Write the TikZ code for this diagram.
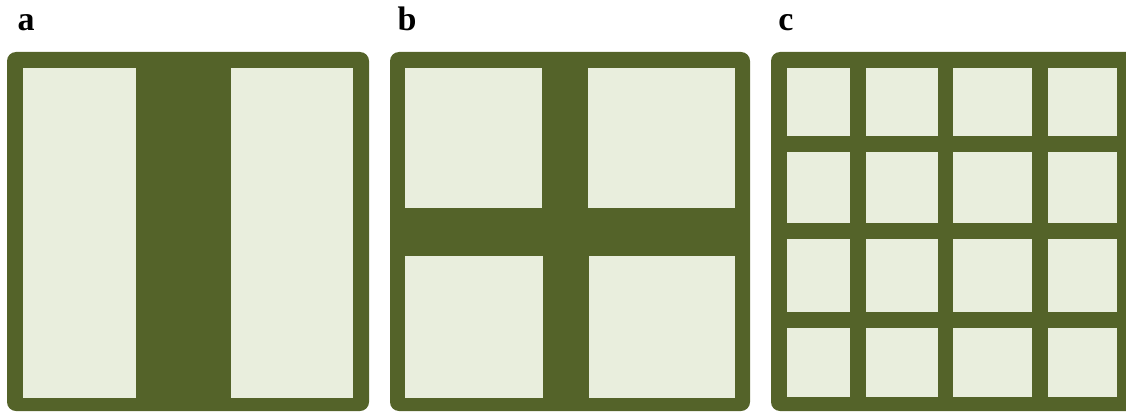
\documentclass[tikz,border=0pt]{standalone}
\usepackage{fontspec}
\setmainfont{Liberation Serif}
\definecolor{panelgreen}{RGB}{84,99,41}
\definecolor{cellpale}{RGB}{233,238,221}
\begin{document}
\begin{tikzpicture}[x=1pt,y=-1pt,
  panel/.style={fill=panelgreen,rounded corners=9pt},
  cell/.style={fill=cellpale},
  lab/.style={font=\bfseries\fontsize{34}{34}\selectfont,inner sep=0pt,anchor=base}]
\useasboundingbox (0,0) rectangle (1126,412);
\clip (0,0) rectangle (1126,412);
% labels
\node[lab] (la) at (26,31) {a};
\node[lab] (lb) at (407,31) {b};
\node[lab] (lc) at (786,31) {c};
% panel a
\fill[panel] (7,52) rectangle (369,411);
\fill[cell] (23,68) rectangle (136,398);
\fill[cell] (231,68) rectangle (353,398);
% panel b
\fill[panel] (390,52) rectangle (750,411);
\fill[cell] (405,68) rectangle (542,208);
\fill[cell] (588,68) rectangle (735,208);
\fill[cell] (405,256) rectangle (543,398);
\fill[cell] (589,256) rectangle (735,398);
% panel c
\fill[panel] (771,52) rectangle (1140,411);
\foreach \xa/\xb in {787/850,866/938,953/1032,1048/1117}{
  \foreach \ya/\yb in {68/136,152/223,239/312,328/397}{
    \fill[cell] (\xa,\ya) rectangle (\xb,\yb);
  }
}
\end{tikzpicture}
\end{document}
